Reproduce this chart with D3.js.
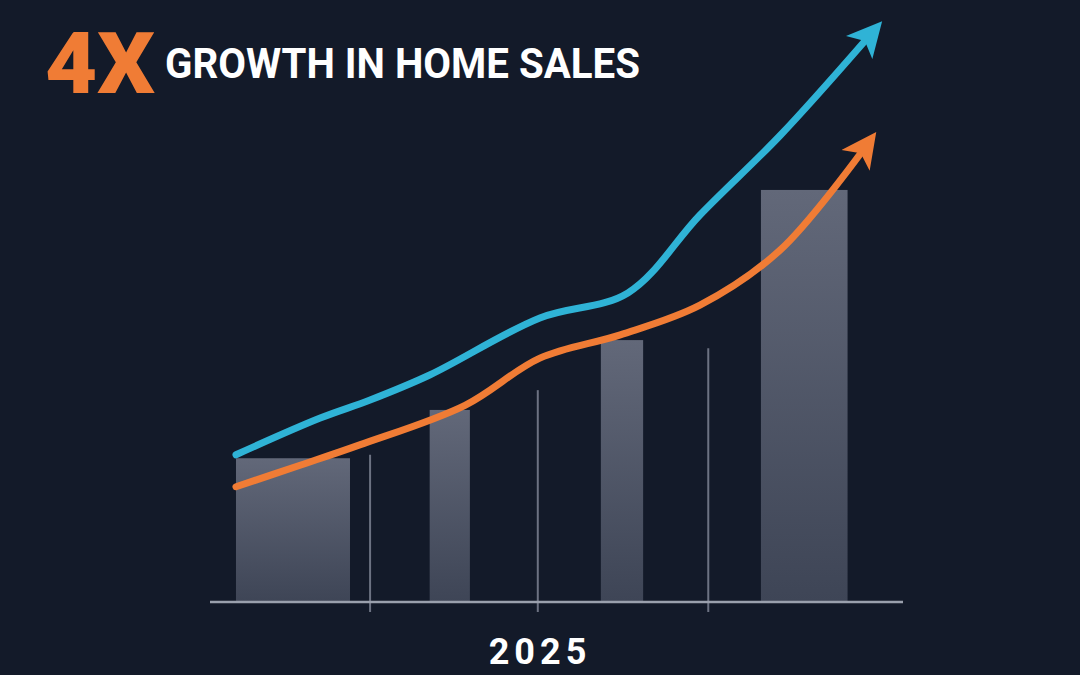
<!DOCTYPE html>
<html><head><meta charset="utf-8">
<script src="https://cdn.jsdelivr.net/npm/d3@7"></script>
<style>html,body{margin:0;background:#131a29;}svg{display:block}</style>
</head><body>
<script>
const titleBig = "4X";
const titleText = "GROWTH IN HOME SALES";
const yearLabel = "2025";
const barStart = [3.75, 31.7, 56.4, 79.5];
const barEnd   = [20.2, 37.5, 62.5, 92.0];
const barValue = [24.7, 33.0, 45.0, 70.8];
const tickX = [23.1, 47.3, 71.9];
const tickTop = [25.3, 36.4, 43.6];
const orangeX = [3.75, 13, 21.6, 36.8, 47.6, 59.2, 70.7, 82.3, 93.9];
const orangeY = [19.8, 23.5, 27, 33.8, 41.9, 45.9, 51, 60.5, 77.1];
const blueX = [3.75, 15.9, 23.1, 31.7, 47.6, 60.3, 70.7, 82.3, 94.5];
const blueY = [25.3, 31.6, 34.7, 39, 48.8, 53.1, 66.5, 80.2, 96.4];

const W=1080,H=675;
const svg=d3.select("body").append("svg").attr("width",W).attr("height",H);
svg.append("rect").attr("width",W).attr("height",H).attr("fill","#131a29");
const x=d3.scaleLinear([0,100],[210,903]);
const y=d3.scaleLinear([0,100],[602,20]);
const defs=svg.append("defs");
const g=defs.append("linearGradient").attr("id","bg").attr("x1",0).attr("x2",0).attr("y1",0).attr("y2",1);
g.append("stop").attr("offset","0").attr("stop-color","#626879");
g.append("stop").attr("offset","1").attr("stop-color","#3e4556");
[["ao","#f07c35"],["ab","#2fb3d6"]].forEach(([id,c])=>{
  defs.append("marker").attr("id",id).attr("viewBox","0 0 10 10").attr("refX",2.5).attr("refY",5)
   .attr("markerWidth",5.2).attr("markerHeight",5).attr("orient","auto").attr("markerUnits","strokeWidth")
   .append("path").attr("d","M0,0L10,5L0,10L2.5,5Z").attr("fill",c);
});
svg.selectAll(".bar").data(barValue).join("rect")
 .attr("x",(d,i)=>x(barStart[i])).attr("width",(d,i)=>x(barEnd[i])-x(barStart[i]))
 .attr("y",d=>y(d)).attr("height",d=>y(0)-y(d)).attr("fill","url(#bg)");
svg.selectAll(".tk").data(tickX).join("line")
 .attr("x1",d=>x(d)).attr("x2",d=>x(d)).attr("y1",(d,i)=>y(tickTop[i])).attr("y2",y(0)+10)
 .attr("stroke","#6c7282").attr("stroke-width",2);
svg.append("line").attr("x1",x(0)).attr("x2",x(100)).attr("y1",y(0)).attr("y2",y(0))
 .attr("stroke","#9aa0ad").attr("stroke-width",2.5);
const line=d3.line().x(d=>x(d[0])).y(d=>y(d[1])).curve(d3.curveCatmullRom.alpha(0.5));
svg.append("path").datum(blueX.map((v,i)=>[v,blueY[i]])).attr("d",line).attr("fill","none")
 .attr("stroke","#2fb3d6").attr("stroke-width",7).attr("stroke-linecap","round").attr("marker-end","url(#ab)");
svg.append("path").datum(orangeX.map((v,i)=>[v,orangeY[i]])).attr("d",line).attr("fill","none")
 .attr("stroke","#f07c35").attr("stroke-width",7).attr("stroke-linecap","round").attr("marker-end","url(#ao)");
svg.append("text").attr("x",45).attr("y",93).text(titleBig).attr("fill","#f07c35")
 .attr("font-family","Roboto").attr("font-weight",900).attr("font-size",86)
 .attr("textLength",110).attr("lengthAdjust","spacingAndGlyphs");
svg.append("text").attr("x",165).attr("y",78).text(titleText).attr("fill","#fff")
 .attr("font-family","Roboto").attr("font-weight",700).attr("font-size",42)
 .attr("textLength",475).attr("lengthAdjust","spacingAndGlyphs");
svg.append("text").attr("x",540).attr("y",664).attr("text-anchor","middle").text(yearLabel).attr("fill","#fff")
 .attr("font-family","Roboto").attr("font-weight",700).attr("font-size",36).attr("letter-spacing",5);
</script>
</body></html>
